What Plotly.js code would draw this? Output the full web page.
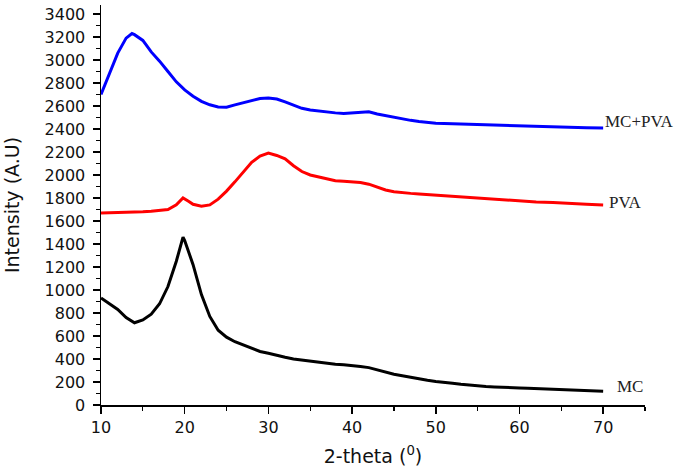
<!DOCTYPE html>
<html>
<head>
<meta charset="utf-8">
<script src="https://cdn.plot.ly/plotly-3.0.1.min.js"></script>
<style>
  html, body { margin: 0; padding: 0; background: #fff; }
  #chart { width: 685px; height: 474px; }
</style>
</head>
<body>
<div id="chart"></div>
<script>
// XRD patterns of MC, PVA and the MC+PVA blend
const mcTheta = [10, 11, 12, 13, 14, 15, 16, 17, 18, 19, 19.8, 20, 21, 22, 23, 24, 25, 26, 27, 28, 29, 30,
  31, 32, 33, 34, 35, 36, 37, 38, 39, 40, 41, 42, 43, 44, 45, 46, 47, 48, 49, 50,
  51, 52, 53, 54, 55, 56, 57, 58, 59, 60, 61, 62, 63, 64, 65, 66, 67, 68, 69, 70];
const mcIntensity = [930, 880, 830, 760, 715, 740, 790, 880, 1030, 1250, 1460, 1430, 1220, 960, 770, 650, 590, 550, 520, 490, 465, 450,
  430, 415, 400, 390, 380, 370, 360, 355, 350, 345, 335, 325, 305, 285, 268, 255, 240, 228, 215, 205,
  200, 190, 180, 172, 165, 160, 157, 152, 150, 148, 145, 142, 140, 138, 135, 132, 128, 125, 123, 120];

const pvaTheta = [10, 11, 12, 13, 14, 15, 16, 17, 18, 19, 19.8, 20.5, 21, 22, 23, 24, 25, 26, 27, 28, 29, 30,
  31, 32, 33, 34, 35, 36, 37, 38, 39, 40, 41, 42, 43, 44, 45, 46, 47, 48, 49, 50,
  52, 54, 56, 58, 60, 62, 64, 66, 68, 70];
const pvaIntensity = [1670, 1672, 1668, 1670, 1675, 1680, 1685, 1690, 1700, 1740, 1800, 1770, 1745, 1728, 1740, 1790, 1860, 1940, 2030, 2110, 2165, 2190,
  2170, 2140, 2080, 2030, 2000, 1985, 1965, 1950, 1945, 1940, 1935, 1920, 1895, 1870, 1855, 1845, 1840, 1835, 1830, 1820,
  1810, 1800, 1790, 1785, 1775, 1765, 1760, 1750, 1745, 1740];

const blendTheta = [10, 11, 12, 13, 13.7, 14, 15, 16, 17, 18, 19, 20, 21, 22, 23, 24, 25, 26, 27, 28, 29, 30,
  31, 32, 33, 34, 35, 36, 37, 38, 39, 40, 41, 42, 43, 44, 45, 46, 47, 48, 49, 50,
  52, 54, 56, 58, 60, 62, 64, 66, 68, 70];
const blendIntensity = [2700, 2880, 3060, 3190, 3230, 3220, 3170, 3070, 2990, 2900, 2810, 2740, 2685, 2640, 2610, 2592, 2590, 2610, 2630, 2650, 2665, 2670,
  2660, 2635, 2605, 2580, 2565, 2555, 2545, 2540, 2535, 2540, 2545, 2550, 2530, 2515, 2505, 2490, 2475, 2465, 2455, 2450,
  2445, 2440, 2435, 2430, 2425, 2420, 2415, 2412, 2410, 2408];

const seriesNames = ["MC", "PVA", "MC+PVA"];
const seriesColors = ["#000000", "#ff0000", "#0000ff"];
const labelPos = [[71.4, 160], [70.4, 1757], [70.0, 2462]];

const tickFont = { family: "DejaVu Sans, Arial", size: 16, color: "#111" };
const titleFont = { family: "DejaVu Sans, Arial", size: 19, color: "#111" };

const data = [
  [mcTheta, mcIntensity], [pvaTheta, pvaIntensity], [blendTheta, blendIntensity]
].map(([x, y], i) => ({
  x, y, name: seriesNames[i], type: "scatter", mode: "lines",
  line: { color: seriesColors[i], width: 3 }
}));

const annotations = seriesNames.map((name, i) => ({
  x: labelPos[i][0], y: labelPos[i][1], xref: "x", yref: "y",
  text: name, showarrow: false, xanchor: "left", yanchor: "middle",
  font: { family: "Liberation Serif, Times New Roman", size: 17, color: "#222" }
}));

const layout = {
  width: 685, height: 474,
  margin: { l: 101, r: 40, t: 5, b: 69 },
  paper_bgcolor: "#fff", plot_bgcolor: "#fff",
  showlegend: false,
  annotations,
  xaxis: {
    range: [10, 75], dtick: 10, tick0: 10,
    showline: true, linecolor: "#000", linewidth: 1.5,
    ticks: "outside", ticklen: 7, tickwidth: 1.5, tickcolor: "#000",
    minor: { dtick: 5, ticks: "outside", ticklen: 4, tickwidth: 1.2, tickcolor: "#000" },
    showgrid: false, zeroline: false, tickfont: tickFont,
    title: { text: "2-theta (<sup>0</sup>)", font: titleFont, standoff: 14 }
  },
  yaxis: {
    range: [0, 3478], dtick: 200, tick0: 0,
    showline: true, linecolor: "#000", linewidth: 1.5,
    ticks: "outside", ticklen: 7, tickwidth: 1.5, tickcolor: "#000",
    ticklabelstandoff: 4,
    minor: { dtick: 100, ticks: "outside", ticklen: 4, tickwidth: 1.2, tickcolor: "#000" },
    showgrid: false, zeroline: false, tickfont: tickFont,
    title: { text: "Intensity (A.U)", font: titleFont, standoff: 20 }
  }
};

Plotly.newPlot("chart", data, layout, { displayModeBar: false, staticPlot: true });
</script>
</body>
</html>
